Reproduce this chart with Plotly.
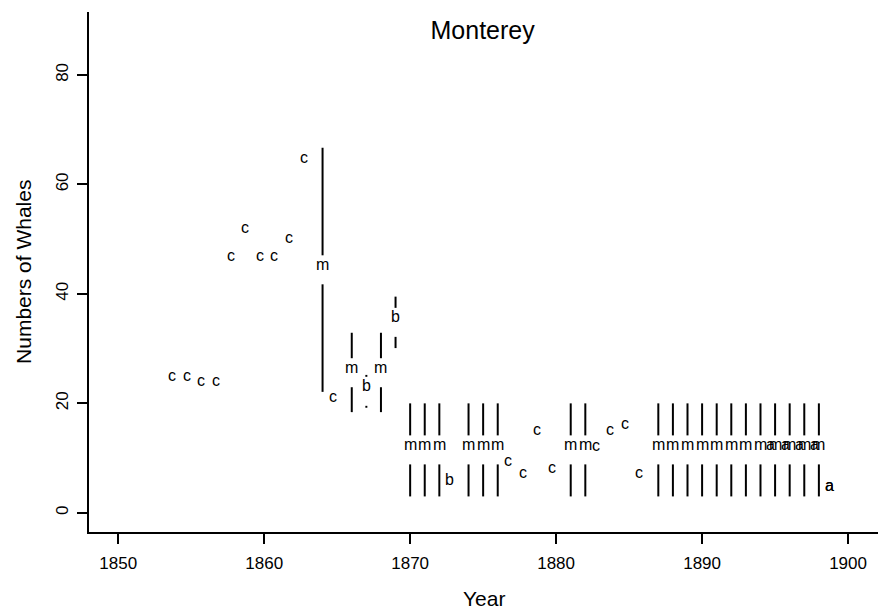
import plotly.graph_objects as go

# ---- data ----
c_years = [1853.7, 1854.7, 1855.7, 1856.7, 1857.7, 1858.7, 1859.7, 1860.7, 1861.7,
           1862.7, 1864.7, 1876.7, 1877.7, 1878.7, 1879.7, 1882.7, 1883.7, 1884.7, 1885.7]
c_vals = [24.1, 24.1, 23.1, 23.1, 46.1, 51.1, 46.1, 46.1, 49.3,
          63.9, 20.3, 8.5, 6.3, 14.2, 7.2, 11.3, 14.2, 15.3, 6.3]

m_years = [1864, 1866, 1868, 1870, 1871, 1872, 1874, 1875, 1876, 1881, 1882,
           1887, 1888, 1889, 1890, 1891, 1892, 1893, 1894, 1895, 1896, 1897, 1898]
m_low = [22.1, 18.4, 18.4, 3.0, 3.0, 3.0, 3.0, 3.0, 3.0, 3.0, 3.0,
         3.0, 3.0, 3.0, 3.0, 3.0, 3.0, 3.0, 3.0, 3.0, 3.0, 3.0, 3.0]
m_mid = [44.4, 25.6, 25.6, 11.5, 11.5, 11.5, 11.5, 11.5, 11.5, 11.5, 11.5,
         11.5, 11.5, 11.5, 11.5, 11.5, 11.5, 11.5, 11.5, 11.5, 11.5, 11.5, 11.5]
m_high = [66.7, 32.9, 32.9, 20.0, 20.0, 20.0, 20.0, 20.0, 20.0, 20.0, 20.0,
          20.0, 20.0, 20.0, 20.0, 20.0, 20.0, 20.0, 20.0, 20.0, 20.0, 20.0, 20.0]

b_range_years = [1867, 1869]
b_low = [19.2, 30.1]
b_mid = [22.2, 34.8]
b_high = [25.2, 39.5]
b_pt_years = [1872.7]
b_pt_vals = [5.0]

a_years = [1894.7, 1895.7, 1896.7, 1897.7, 1898.7, 1898.7]
a_vals = [11.5, 11.5, 11.5, 11.5, 4.0, 4.0]

x_ticks = [1850, 1860, 1870, 1880, 1890, 1900]
y_ticks = [0, 20, 40, 60, 80]

# ---- style ----
FONT = "Liberation Sans, Arial, Helvetica, sans-serif"
GAP = 2.65          # half-gap (y units) left around each range label
LETTER_SIZE = 16
BASE_SHIFT = 5.5    # px: puts the letter baseline on the value

fig = go.Figure()

# range segments with a gap around the label
xs, ys = [], []
for yrs, lo, mid, hi in [(m_years, m_low, m_mid, m_high),
                         (b_range_years, b_low, b_mid, b_high)]:
    for x, l, m, h in zip(yrs, lo, mid, hi):
        xs += [x, x, None, x, x, None]
        ys += [l, m - GAP, None, m + GAP, h, None]

fig.add_trace(go.Scatter(x=xs, y=ys, mode="lines",
                         line=dict(color="black", width=2),
                         hoverinfo="skip", showlegend=False))

annotations = []

def add_letters(letter, xv, yv):
    for x, y in zip(xv, yv):
        annotations.append(dict(x=x, y=y, xref="x", yref="y", text=letter,
                                showarrow=False, xanchor="center", yanchor="middle",
                                yshift=BASE_SHIFT,
                                font=dict(family=FONT, size=LETTER_SIZE, color="black")))

add_letters("c", c_years, c_vals)
add_letters("m", m_years, m_mid)
add_letters("b", b_range_years, b_mid)
add_letters("b", b_pt_years, b_pt_vals)
add_letters("a", a_years, a_vals)

# axis titles
annotations.append(dict(text="Year", xref="paper", yref="paper", x=0.5, y=-0.127,
                        xanchor="center", yanchor="middle", showarrow=False,
                        font=dict(family=FONT, size=21, color="black")))
annotations.append(dict(text="Numbers of Whales", xref="paper", yref="paper",
                        x=-0.0837, y=0.5, textangle=-90,
                        xanchor="center", yanchor="middle", showarrow=False,
                        font=dict(family=FONT, size=21, color="black")))

fig.update_layout(
    width=888, height=610,
    margin=dict(l=89, r=10, t=12, b=78),
    plot_bgcolor="white", paper_bgcolor="white",
    font=dict(family=FONT, color="black"),
    title=dict(text="Monterey", x=0.5435, xanchor="center", y=1 - 30 / 610,
               yanchor="middle", font=dict(family=FONT, size=25, color="black")),
    annotations=annotations,
    xaxis=dict(range=[1848.0, 1902.05], tickvals=x_ticks, showgrid=False,
               zeroline=False, showline=True, linecolor="black", linewidth=2,
               ticks="outside", ticklen=10, tickwidth=2, tickcolor="black",
               tickfont=dict(size=17), ticklabelstandoff=5, automargin=False),
    yaxis=dict(range=[-3.5, 91.5], tickvals=y_ticks, showgrid=False,
               zeroline=False, showline=True, linecolor="black", linewidth=2,
               ticks="outside", ticklen=10, tickwidth=2, tickcolor="black",
               tickangle=-90, tickfont=dict(size=17), ticklabelstandoff=2,
               automargin=False),
)

fig.write_html("out.html")
